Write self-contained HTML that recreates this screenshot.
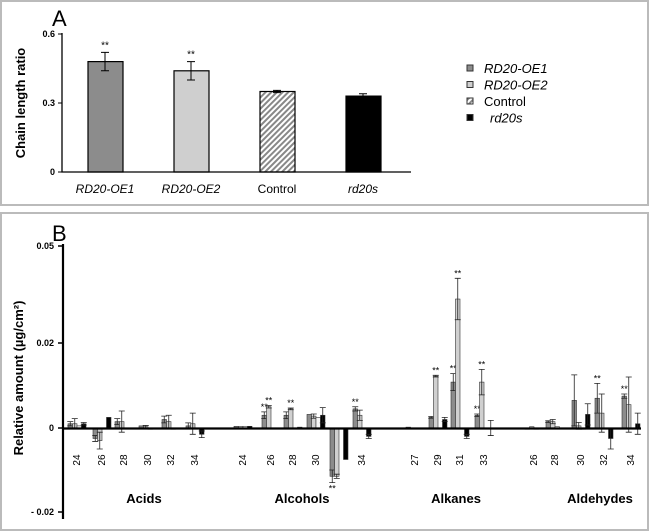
<!DOCTYPE html>
<html><head><meta charset="utf-8"><style>
body{margin:0;background:#fff;}
svg{display:block;font-family:"Liberation Sans",Arial,sans-serif;}
</style></head><body>
<svg id="c" width="649" height="531" viewBox="0 0 649 531">
<defs><pattern id="hatch" patternUnits="userSpaceOnUse" width="4" height="4" patternTransform="rotate(45)"><rect width="4" height="4" fill="#fff"/><rect width="2" height="4" fill="#888"/></pattern></defs>
<rect x="1" y="1" width="647" height="204" fill="none" stroke="#bbb" stroke-width="2"/>
<rect x="1" y="213" width="647" height="317" fill="none" stroke="#bbb" stroke-width="2"/>
<text x="52" y="26" font-size="22">A</text>
<text x="52" y="241" font-size="22">B</text>
<text transform="translate(25,103) rotate(-90)" text-anchor="middle" font-size="13" font-weight="bold">Chain length ratio</text>
<text transform="translate(23,378) rotate(-90)" text-anchor="middle" font-size="13" font-weight="bold">Relative amount (µg/cm²)</text>
<g id="ga"></g><g id="gb"></g>
</svg>
<script>
const NS='http://www.w3.org/2000/svg';
function mk(p,t,a,txt){const e=document.createElementNS(NS,t);for(const k in a)e.setAttribute(k,a[k]);if(txt!==undefined)e.textContent=txt;p.appendChild(e);return e;}
// Panel A data
const aCats=['RD20-OE1','RD20-OE2','Control','rd20s'];
const aVals=[0.48,0.44,0.35,0.33];
const aErr=[0.04,0.04,0.005,0.01];
const aSig=['**','**','',''];
const aTicks=[0,0.3,0.6];
const seriesNames=['RD20-OE1','RD20-OE2','Control','rd20s'];
const fills=['#8c8c8c','#cfcfcf','url(#hatch)','#000'];
const italic=[true,true,false,true];
const ga=document.getElementById('ga');
const ayA=v=>172-v/0.6*138;
const axX=i=>105+i*86;
aTicks.forEach(t=>{let l=mk(ga,'line',{x1:58,x2:62,y1:ayA(t),y2:ayA(t),stroke:'#000'});

let tx=mk(ga,'text',{x:55,y:ayA(t)+3,'text-anchor':'end','font-size':9,'font-weight':'bold'},String(t));
});
aCats.forEach((c,i)=>{const x=axX(i),y=ayA(aVals[i]);
let r=mk(ga,'rect',{x:x-17,y:y,width:35,height:ayA(0)-y,fill:fills[i],stroke:'#000','stroke-width':1.2});

let e=mk(ga,'path',{d:`M${x},${ayA(aVals[i]+aErr[i])}V${ayA(aVals[i]-aErr[i])}M${x-4},${ayA(aVals[i]+aErr[i])}h8M${x-4},${ayA(aVals[i]-aErr[i])}h8`,stroke:'#000',fill:'none'});

if(aSig[i]){let s=mk(ga,'text',{x:x,y:ayA(aVals[i]+aErr[i])-4,'text-anchor':'middle','font-size':10},aSig[i]);
}
let t=mk(ga,'text',{x:x,y:193,'text-anchor':'middle','font-size':12,'font-style':italic[i]?'italic':'normal'},c);
});
let ya=mk(ga,'path',{d:`M62,33V172H411`,stroke:'#000',fill:'none','stroke-width':1.3});

seriesNames.forEach((n,i)=>{const y=68+i*16.5;
let r=mk(ga,'rect',{x:467,y:y-3,width:6,height:6,fill:fills[i],stroke:'#333'});

let t=mk(ga,'text',{x:i==3?490:484,y:y+5,'font-size':13,'font-style':italic[i]?'italic':'normal'},n);
});
// Panel B data
const groups=['Acids','Alcohols','Alkanes','Aldehydes'];
const chains=[['24','26','28','30','32','34'],['24','26','28','30','32','34'],['27','29','31','33'],['26','28','30','32','34']];
const oe1=[[0.001,-0.0025,0.0015,0.0005,0.002,0.0005],[0.0004,0.003,0.003,0.0032,-0.0115,0.0045],[0.0002,0.0025,0.0108,0.003],[-0.0003,0.0015,0.0065,0.007,0.0075]];
const oe2=[[0.001,-0.003,0.0015,0.0003,0.0015,0.001],[0.0004,0.005,0.0045,0.0028,-0.0115,0.003],[0,0.0122,0.0336,0.0108],[0.0003,0.0015,0.0005,0.0035,0.0055]];
const ctrl=[[0.0005,0,0,-0.0003,-0.0003,0],[0.0004,0,0,0.0025,0,0],[0,0,0,0],[-0.0003,0.0003,-0.0003,0,0]];
const rd=[[0.001,0.0025,0,0,0,-0.0015],[0.0004,0,0.0002,0.003,-0.0075,-0.002],[0,0.002,-0.002,0],[0,0,0.0032,-0.0025,0.001]];
const err1=[[0.0005,0.0007,0.0007,0,0.0008,0.0007],[0,0.0008,0.0008,0,0.0015,0.0005],[0,0.0002,0.002,0.0003],[0,0.0002,0.006,0.0035,0.0005]];
const err2=[[0.0012,0.002,0.0025,0.0003,0.0015,0.0025],[0,0.0003,0.0002,0.0005,0.0005,0.0012],[0,0.0002,0.0064,0.003],[0,0.0005,0.0008,0.0045,0.0065]];
const errR=[[0.0003,0,0,0,0,0.0008],[0,0,0,0.0018,0,0.0005],[0,0.0005,0.0005,0.0018],[0,0,0.0025,0.0025,0.0025]];
const sig1=[[0,0,0,0,0,0],[0,1,0,0,1,1],[0,0,1,1],[0,0,0,1,1]];
const sig2=[[0,0,0,0,0,0],[0,1,1,0,0,0],[0,1,1,1],[0,0,0,0,0]];
const bTicks=[-0.02,0,0.02,0.05];
const bTickLabels=['- 0.02','0','0.02','0.05'];
const chainX=[[77,102,124,148,171,195],[243,271,293,316,339,362],[415,438,460,484],[534,555,581,604,631]];
const groupX=[144,302,456,600];
const gb=document.getElementById('gb');
function yB(v){if(v>=0.02)return 343-(v-0.02)/0.03*97;if(v>=0)return 428-v/0.02*85;return 428-v/0.02*84;}
bTicks.forEach((t,i)=>{let l=mk(gb,'line',{x1:58,x2:63,y1:yB(t),y2:yB(t),stroke:'#000','stroke-width':1.5});

let tx=mk(gb,'text',{x:54,y:yB(t)+3,'text-anchor':'end','font-size':9,'font-weight':'bold'},bTickLabels[i]);
});
const series=[oe1,oe2,ctrl,rd];const errs=[err1,err2,null,errR];const bfill=['#8c8c8c','#d0d0d0','#f4f4f4','#000'];
const bw=4.5;
groups.forEach((g,gi)=>{
 chains[gi].forEach((c,ci)=>{const cx=chainX[gi][ci];
  series.forEach((s,si)=>{const v=s[gi][ci];const x=cx-9+si*bw;const y0=yB(0),y1=yB(v);
   let r=mk(gb,'rect',{x:x,y:Math.min(y0,y1),width:bw,height:Math.max(Math.abs(y1-y0),0.6),fill:bfill[si],stroke:'#333','stroke-width':0.6});
   
   
   const E=errs[si]?errs[si][gi][ci]:0;
   if(E>0){const xm=x+bw/2,ya=yB(v+E),yb=yB(v-E);
    let e=mk(gb,'path',{d:`M${xm},${ya}V${yb}M${xm-3},${ya}h6M${xm-3},${yb}h6`,stroke:'#222','stroke-width':0.8,fill:'none'});
    
    }
   const sg=si==0?sig1[gi][ci]:si==1?sig2[gi][ci]:0;
   if(sg){const ytop=v>=0?yB(v+(E||0))-2:yB(v-(E||0))+9;
    let st=mk(gb,'text',{x:x+bw/2,y:ytop,'text-anchor':'middle','font-size':9},'**');
    
    }
  });
  if(!(gi==1&&ci==4)){let t=mk(gb,'text',{transform:`translate(${cx+3},460) rotate(-90)`,'text-anchor':'middle','font-size':10},c);
  
  }
 });
 let gt=mk(gb,'text',{x:groupX[gi],y:503,'text-anchor':'middle','font-size':13,'font-weight':'bold'},g);
 
 
});
let axb=mk(gb,'path',{d:`M63,244V519M63,428.5H641`,stroke:'#000',fill:'none','stroke-width':2.2});


</script>
</body></html>
